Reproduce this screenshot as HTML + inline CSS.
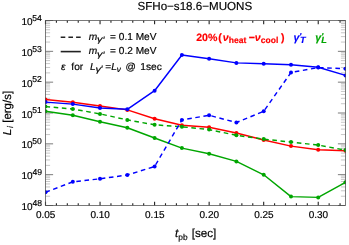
<!DOCTYPE html>
<html><head><meta charset="utf-8"><title>plot</title>
<style>html,body{margin:0;padding:0;background:#fff;overflow:hidden}body{width:349px;height:245px;position:relative;font-family:"Liberation Sans",sans-serif}</style>
</head><body>
<svg width="349" height="245" viewBox="0 0 349 245" style="position:absolute;left:0;top:0">
<defs><clipPath id="c"><rect x="45.0" y="20.0" width="301.0" height="186.0"/></clipPath></defs>
<rect width="349" height="245" fill="#fff"/>
<path d="M45.5 196.22h4.6M345.5 196.22h-4.6" stroke="#999" stroke-width="0.55"/>
<path d="M45.5 190.79h4.6M345.5 190.79h-4.6" stroke="#999" stroke-width="0.55"/>
<path d="M45.5 186.94h4.6M345.5 186.94h-4.6" stroke="#999" stroke-width="0.55"/>
<path d="M45.5 183.95h4.6M345.5 183.95h-4.6" stroke="#999" stroke-width="0.55"/>
<path d="M45.5 181.51h4.6M345.5 181.51h-4.6" stroke="#999" stroke-width="0.55"/>
<path d="M45.5 179.44h4.6M345.5 179.44h-4.6" stroke="#999" stroke-width="0.55"/>
<path d="M45.5 177.65h4.6M345.5 177.65h-4.6" stroke="#999" stroke-width="0.55"/>
<path d="M45.5 176.08h4.6M345.5 176.08h-4.6" stroke="#999" stroke-width="0.55"/>
<path d="M45.5 165.38h4.6M345.5 165.38h-4.6" stroke="#999" stroke-width="0.55"/>
<path d="M45.5 159.96h4.6M345.5 159.96h-4.6" stroke="#999" stroke-width="0.55"/>
<path d="M45.5 156.10h4.6M345.5 156.10h-4.6" stroke="#999" stroke-width="0.55"/>
<path d="M45.5 153.12h4.6M345.5 153.12h-4.6" stroke="#999" stroke-width="0.55"/>
<path d="M45.5 150.67h4.6M345.5 150.67h-4.6" stroke="#999" stroke-width="0.55"/>
<path d="M45.5 148.61h4.6M345.5 148.61h-4.6" stroke="#999" stroke-width="0.55"/>
<path d="M45.5 146.82h4.6M345.5 146.82h-4.6" stroke="#999" stroke-width="0.55"/>
<path d="M45.5 145.24h4.6M345.5 145.24h-4.6" stroke="#999" stroke-width="0.55"/>
<path d="M45.5 134.55h4.6M345.5 134.55h-4.6" stroke="#999" stroke-width="0.55"/>
<path d="M45.5 129.12h4.6M345.5 129.12h-4.6" stroke="#999" stroke-width="0.55"/>
<path d="M45.5 125.27h4.6M345.5 125.27h-4.6" stroke="#999" stroke-width="0.55"/>
<path d="M45.5 122.28h4.6M345.5 122.28h-4.6" stroke="#999" stroke-width="0.55"/>
<path d="M45.5 119.84h4.6M345.5 119.84h-4.6" stroke="#999" stroke-width="0.55"/>
<path d="M45.5 117.78h4.6M345.5 117.78h-4.6" stroke="#999" stroke-width="0.55"/>
<path d="M45.5 115.99h4.6M345.5 115.99h-4.6" stroke="#999" stroke-width="0.55"/>
<path d="M45.5 114.41h4.6M345.5 114.41h-4.6" stroke="#999" stroke-width="0.55"/>
<path d="M45.5 103.72h4.6M345.5 103.72h-4.6" stroke="#999" stroke-width="0.55"/>
<path d="M45.5 98.29h4.6M345.5 98.29h-4.6" stroke="#999" stroke-width="0.55"/>
<path d="M45.5 94.44h4.6M345.5 94.44h-4.6" stroke="#999" stroke-width="0.55"/>
<path d="M45.5 91.45h4.6M345.5 91.45h-4.6" stroke="#999" stroke-width="0.55"/>
<path d="M45.5 89.01h4.6M345.5 89.01h-4.6" stroke="#999" stroke-width="0.55"/>
<path d="M45.5 86.94h4.6M345.5 86.94h-4.6" stroke="#999" stroke-width="0.55"/>
<path d="M45.5 85.15h4.6M345.5 85.15h-4.6" stroke="#999" stroke-width="0.55"/>
<path d="M45.5 83.58h4.6M345.5 83.58h-4.6" stroke="#999" stroke-width="0.55"/>
<path d="M45.5 72.88h4.6M345.5 72.88h-4.6" stroke="#999" stroke-width="0.55"/>
<path d="M45.5 67.46h4.6M345.5 67.46h-4.6" stroke="#999" stroke-width="0.55"/>
<path d="M45.5 63.60h4.6M345.5 63.60h-4.6" stroke="#999" stroke-width="0.55"/>
<path d="M45.5 60.62h4.6M345.5 60.62h-4.6" stroke="#999" stroke-width="0.55"/>
<path d="M45.5 58.17h4.6M345.5 58.17h-4.6" stroke="#999" stroke-width="0.55"/>
<path d="M45.5 56.11h4.6M345.5 56.11h-4.6" stroke="#999" stroke-width="0.55"/>
<path d="M45.5 54.32h4.6M345.5 54.32h-4.6" stroke="#999" stroke-width="0.55"/>
<path d="M45.5 52.74h4.6M345.5 52.74h-4.6" stroke="#999" stroke-width="0.55"/>
<path d="M45.5 42.05h4.6M345.5 42.05h-4.6" stroke="#999" stroke-width="0.55"/>
<path d="M45.5 36.62h4.6M345.5 36.62h-4.6" stroke="#999" stroke-width="0.55"/>
<path d="M45.5 32.77h4.6M345.5 32.77h-4.6" stroke="#999" stroke-width="0.55"/>
<path d="M45.5 29.78h4.6M345.5 29.78h-4.6" stroke="#999" stroke-width="0.55"/>
<path d="M45.5 27.34h4.6M345.5 27.34h-4.6" stroke="#999" stroke-width="0.55"/>
<path d="M45.5 25.28h4.6M345.5 25.28h-4.6" stroke="#999" stroke-width="0.55"/>
<path d="M45.5 23.49h4.6M345.5 23.49h-4.6" stroke="#999" stroke-width="0.55"/>
<path d="M45.5 21.91h4.6M345.5 21.91h-4.6" stroke="#999" stroke-width="0.55"/>
<path d="M45.5 205.50h7.6M345.5 205.50h-7.6" stroke="#444" stroke-width="0.7"/>
<path d="M45.5 174.67h7.6M345.5 174.67h-7.6" stroke="#444" stroke-width="0.7"/>
<path d="M45.5 143.83h7.6M345.5 143.83h-7.6" stroke="#444" stroke-width="0.7"/>
<path d="M45.5 113.00h7.6M345.5 113.00h-7.6" stroke="#444" stroke-width="0.7"/>
<path d="M45.5 82.17h7.6M345.5 82.17h-7.6" stroke="#444" stroke-width="0.7"/>
<path d="M45.5 51.33h7.6M345.5 51.33h-7.6" stroke="#444" stroke-width="0.7"/>
<path d="M45.5 20.50h7.6M345.5 20.50h-7.6" stroke="#444" stroke-width="0.7"/>
<path d="M45.50 205.5v-3.8M45.50 20.5v3.8" stroke="#222" stroke-width="1.1"/>
<path d="M56.41 205.5v-2.3M56.41 20.5v2.3" stroke="#222" stroke-width="1.1"/>
<path d="M67.32 205.5v-2.3M67.32 20.5v2.3" stroke="#222" stroke-width="1.1"/>
<path d="M78.23 205.5v-2.3M78.23 20.5v2.3" stroke="#222" stroke-width="1.1"/>
<path d="M89.14 205.5v-2.3M89.14 20.5v2.3" stroke="#222" stroke-width="1.1"/>
<path d="M100.05 205.5v-3.8M100.05 20.5v3.8" stroke="#222" stroke-width="1.1"/>
<path d="M110.95 205.5v-2.3M110.95 20.5v2.3" stroke="#222" stroke-width="1.1"/>
<path d="M121.86 205.5v-2.3M121.86 20.5v2.3" stroke="#222" stroke-width="1.1"/>
<path d="M132.77 205.5v-2.3M132.77 20.5v2.3" stroke="#222" stroke-width="1.1"/>
<path d="M143.68 205.5v-2.3M143.68 20.5v2.3" stroke="#222" stroke-width="1.1"/>
<path d="M154.59 205.5v-3.8M154.59 20.5v3.8" stroke="#222" stroke-width="1.1"/>
<path d="M165.50 205.5v-2.3M165.50 20.5v2.3" stroke="#222" stroke-width="1.1"/>
<path d="M176.41 205.5v-2.3M176.41 20.5v2.3" stroke="#222" stroke-width="1.1"/>
<path d="M187.32 205.5v-2.3M187.32 20.5v2.3" stroke="#222" stroke-width="1.1"/>
<path d="M198.23 205.5v-2.3M198.23 20.5v2.3" stroke="#222" stroke-width="1.1"/>
<path d="M209.14 205.5v-3.8M209.14 20.5v3.8" stroke="#222" stroke-width="1.1"/>
<path d="M220.05 205.5v-2.3M220.05 20.5v2.3" stroke="#222" stroke-width="1.1"/>
<path d="M230.95 205.5v-2.3M230.95 20.5v2.3" stroke="#222" stroke-width="1.1"/>
<path d="M241.86 205.5v-2.3M241.86 20.5v2.3" stroke="#222" stroke-width="1.1"/>
<path d="M252.77 205.5v-2.3M252.77 20.5v2.3" stroke="#222" stroke-width="1.1"/>
<path d="M263.68 205.5v-3.8M263.68 20.5v3.8" stroke="#222" stroke-width="1.1"/>
<path d="M274.59 205.5v-2.3M274.59 20.5v2.3" stroke="#222" stroke-width="1.1"/>
<path d="M285.50 205.5v-2.3M285.50 20.5v2.3" stroke="#222" stroke-width="1.1"/>
<path d="M296.41 205.5v-2.3M296.41 20.5v2.3" stroke="#222" stroke-width="1.1"/>
<path d="M307.32 205.5v-2.3M307.32 20.5v2.3" stroke="#222" stroke-width="1.1"/>
<path d="M318.23 205.5v-3.8M318.23 20.5v3.8" stroke="#222" stroke-width="1.1"/>
<path d="M329.14 205.5v-2.3M329.14 20.5v2.3" stroke="#222" stroke-width="1.1"/>
<path d="M340.05 205.5v-2.3M340.05 20.5v2.3" stroke="#222" stroke-width="1.1"/>
<g clip-path="url(#c)">
<polyline points="45.5,99.5 72.8,102.2 100.0,106.0 127.3,109.9 154.6,118.7 181.9,125.3 209.1,127.3 236.4,133.0 263.7,140.0 291.0,146.1 318.2,149.8 345.5,150.8" fill="none" stroke="#ff0000" stroke-width="1.45" stroke-linejoin="round"/>
<circle cx="45.5" cy="99.5" r="2" fill="#ff0000"/>
<circle cx="72.8" cy="102.2" r="2" fill="#ff0000"/>
<circle cx="100.0" cy="106.0" r="2" fill="#ff0000"/>
<circle cx="127.3" cy="109.9" r="2" fill="#ff0000"/>
<circle cx="154.6" cy="118.7" r="2" fill="#ff0000"/>
<circle cx="181.9" cy="125.3" r="2" fill="#ff0000"/>
<circle cx="209.1" cy="127.3" r="2" fill="#ff0000"/>
<circle cx="236.4" cy="133.0" r="2" fill="#ff0000"/>
<circle cx="263.7" cy="140.0" r="2" fill="#ff0000"/>
<circle cx="291.0" cy="146.1" r="2" fill="#ff0000"/>
<circle cx="318.2" cy="149.8" r="2" fill="#ff0000"/>
<circle cx="345.5" cy="150.8" r="2" fill="#ff0000"/>
<polyline points="45.5,102.1 72.8,104.1 100.0,108.0 127.3,109.3 154.6,90.7 181.9,55.0 209.1,58.8 236.4,62.9 263.7,63.7 291.0,64.7 318.2,67.2 345.5,75.4" fill="none" stroke="#0000ff" stroke-width="1.45" stroke-linejoin="round"/>
<circle cx="45.5" cy="102.1" r="2" fill="#0000ff"/>
<circle cx="72.8" cy="104.1" r="2" fill="#0000ff"/>
<circle cx="100.0" cy="108.0" r="2" fill="#0000ff"/>
<circle cx="127.3" cy="109.3" r="2" fill="#0000ff"/>
<circle cx="154.6" cy="90.7" r="2" fill="#0000ff"/>
<circle cx="181.9" cy="55.0" r="2" fill="#0000ff"/>
<circle cx="209.1" cy="58.8" r="2" fill="#0000ff"/>
<circle cx="236.4" cy="62.9" r="2" fill="#0000ff"/>
<circle cx="263.7" cy="63.7" r="2" fill="#0000ff"/>
<circle cx="291.0" cy="64.7" r="2" fill="#0000ff"/>
<circle cx="318.2" cy="67.2" r="2" fill="#0000ff"/>
<circle cx="345.5" cy="75.4" r="2" fill="#0000ff"/>
<polyline points="45.5,106.6 72.8,109.0 100.0,113.9 127.3,119.9 154.6,124.8 181.9,126.8 209.1,129.6 236.4,135.3 263.7,139.1 291.0,142.1 318.2,145.1 345.5,150.1" fill="none" stroke="#00a600" stroke-width="1.45" stroke-linejoin="round" stroke-dasharray="4.6 3.6"/>
<circle cx="45.5" cy="106.6" r="2" fill="#00a600"/>
<circle cx="72.8" cy="109.0" r="2" fill="#00a600"/>
<circle cx="100.0" cy="113.9" r="2" fill="#00a600"/>
<circle cx="127.3" cy="119.9" r="2" fill="#00a600"/>
<circle cx="154.6" cy="124.8" r="2" fill="#00a600"/>
<circle cx="181.9" cy="126.8" r="2" fill="#00a600"/>
<circle cx="209.1" cy="129.6" r="2" fill="#00a600"/>
<circle cx="236.4" cy="135.3" r="2" fill="#00a600"/>
<circle cx="263.7" cy="139.1" r="2" fill="#00a600"/>
<circle cx="291.0" cy="142.1" r="2" fill="#00a600"/>
<circle cx="318.2" cy="145.1" r="2" fill="#00a600"/>
<circle cx="345.5" cy="150.1" r="2" fill="#00a600"/>
<polyline points="45.5,111.2 72.8,115.2 100.0,121.8 127.3,127.7 154.6,138.0 181.9,148.1 209.1,153.7 236.4,161.4 263.7,174.8 291.0,196.6 318.2,197.4 345.5,182.3" fill="none" stroke="#00a600" stroke-width="1.45" stroke-linejoin="round"/>
<circle cx="45.5" cy="111.2" r="2" fill="#00a600"/>
<circle cx="72.8" cy="115.2" r="2" fill="#00a600"/>
<circle cx="100.0" cy="121.8" r="2" fill="#00a600"/>
<circle cx="127.3" cy="127.7" r="2" fill="#00a600"/>
<circle cx="154.6" cy="138.0" r="2" fill="#00a600"/>
<circle cx="181.9" cy="148.1" r="2" fill="#00a600"/>
<circle cx="209.1" cy="153.7" r="2" fill="#00a600"/>
<circle cx="236.4" cy="161.4" r="2" fill="#00a600"/>
<circle cx="263.7" cy="174.8" r="2" fill="#00a600"/>
<circle cx="291.0" cy="196.6" r="2" fill="#00a600"/>
<circle cx="318.2" cy="197.4" r="2" fill="#00a600"/>
<circle cx="345.5" cy="182.3" r="2" fill="#00a600"/>
<polyline points="45.5,192.3 72.8,181.8 100.0,178.8 127.3,175.0 154.6,166.5 181.9,119.9 209.1,115.3 236.4,122.5 263.7,111.3 291.0,72.5 318.2,67.6 345.5,68.7" fill="none" stroke="#0000ff" stroke-width="1.45" stroke-linejoin="round" stroke-dasharray="4.6 3.6"/>
<circle cx="45.5" cy="192.3" r="2" fill="#0000ff"/>
<circle cx="72.8" cy="181.8" r="2" fill="#0000ff"/>
<circle cx="100.0" cy="178.8" r="2" fill="#0000ff"/>
<circle cx="127.3" cy="175.0" r="2" fill="#0000ff"/>
<circle cx="154.6" cy="166.5" r="2" fill="#0000ff"/>
<circle cx="181.9" cy="119.9" r="2" fill="#0000ff"/>
<circle cx="209.1" cy="115.3" r="2" fill="#0000ff"/>
<circle cx="236.4" cy="122.5" r="2" fill="#0000ff"/>
<circle cx="263.7" cy="111.3" r="2" fill="#0000ff"/>
<circle cx="291.0" cy="72.5" r="2" fill="#0000ff"/>
<circle cx="318.2" cy="67.6" r="2" fill="#0000ff"/>
<circle cx="345.5" cy="68.7" r="2" fill="#0000ff"/>
</g>
<rect x="45.5" y="20.5" width="300.0" height="185.0" fill="none" stroke="#4d4d4d" stroke-width="0.75"/>
<path d="M60.7 37.2H80.8" stroke="#222" stroke-width="1.6" stroke-dasharray="4.6 3.1"/>
<path d="M60.7 51.6H80.8" stroke="#222" stroke-width="1.6"/>
<g font-family="Liberation Sans, sans-serif" fill="#000000" font-size="10" text-rendering="geometricPrecision" style="filter:blur(0.25px)" stroke="#000" stroke-width="0.18">
<text x="137.47" y="10.40" font-size="11.60">SFHo−s18.6−MUONS</text>
<text x="21.54" y="210.10" font-size="10.00">10</text>
<text x="32.40" y="205.80" font-size="8.60">48</text>
<text x="21.54" y="179.27" font-size="10.00">10</text>
<text x="32.40" y="174.97" font-size="8.60">49</text>
<text x="21.54" y="148.43" font-size="10.00">10</text>
<text x="32.26" y="144.13" font-size="8.60">50</text>
<text x="21.54" y="117.60" font-size="10.00">10</text>
<text x="32.26" y="113.30" font-size="8.60">51</text>
<text x="21.54" y="86.77" font-size="10.00">10</text>
<text x="32.26" y="82.47" font-size="8.60">52</text>
<text x="21.54" y="55.93" font-size="10.00">10</text>
<text x="32.26" y="51.63" font-size="8.60">53</text>
<text x="21.54" y="25.10" font-size="10.00">10</text>
<text x="32.26" y="20.80" font-size="8.60">54</text>
<text x="45.7" y="218" text-anchor="middle" font-size="10">0.05</text>
<text x="100.2" y="218" text-anchor="middle" font-size="10">0.10</text>
<text x="154.8" y="218" text-anchor="middle" font-size="10">0.15</text>
<text x="209.3" y="218" text-anchor="middle" font-size="10">0.20</text>
<text x="263.9" y="218" text-anchor="middle" font-size="10">0.25</text>
<text x="318.4" y="218" text-anchor="middle" font-size="10">0.30</text>
<text x="175.07" y="237.30" font-size="11.70" font-style="italic">t</text>
<text x="178.36" y="239.90" font-size="8.40">pb</text>
<text x="191.67" y="237.30" font-size="11.70">[sec]</text>
<text transform="translate(10.50,135.35) rotate(-90)" font-size="11.50" font-style="italic">L</text>
<text transform="translate(13.00,128.03) rotate(-90)" font-size="8.30" font-style="italic">i</text>
<text transform="translate(10.50,122.82) rotate(-90)" font-size="11.50">[erg/s]</text>
<text x="88.63" y="40.00" font-size="10.20" font-style="italic">m</text>
<text transform="translate(97.11,42.40) scale(1.300,1)" font-size="8.40" font-style="italic">γ</text>
<text x="102.86" y="43.40" font-size="9.50" font-style="italic">′</text>
<text x="110.11" y="40.00" font-size="10.10">= 0.1 MeV</text>
<text x="88.63" y="54.40" font-size="10.20" font-style="italic">m</text>
<text transform="translate(97.11,56.80) scale(1.300,1)" font-size="8.40" font-style="italic">γ</text>
<text x="102.86" y="57.80" font-size="9.50" font-style="italic">′</text>
<text x="110.11" y="54.40" font-size="10.10">= 0.2 MeV</text>
<text x="61.03" y="69.70" font-size="10.20" font-style="italic">ε</text>
<text x="71.36" y="69.70" font-size="10.20">for</text>
<text x="89.99" y="69.70" font-size="10.20" font-style="italic">L</text>
<text transform="translate(95.61,71.70) scale(1.300,1)" font-size="8.40" font-style="italic">γ</text>
<text x="100.86" y="71.70" font-size="9.50" font-style="italic">′</text>
<text x="105.30" y="69.70" font-size="10.20">=</text>
<text x="111.19" y="69.70" font-size="10.20" font-style="italic">L</text>
<text x="116.80" y="71.60" font-size="8.20" font-style="italic">ν</text>
<text x="125.60" y="69.70" font-size="10.20">@</text>
<text x="140.32" y="69.70" font-size="10.20">1sec</text>
<text x="196.23" y="40.60" font-size="10.60" font-weight="bold" fill="#ff0000" stroke="#ff0000">20%</text>
<text x="218.37" y="40.60" font-size="10.60" font-weight="bold" fill="#ff0000" stroke="#ff0000">(</text>
<text x="222.86" y="40.60" font-size="10.60" font-weight="bold" font-style="italic" fill="#ff0000" stroke="#ff0000">ν</text>
<text x="228.81" y="43.10" font-size="8.50" font-weight="bold" fill="#ff0000" stroke="#ff0000">heat</text>
<text x="248.76" y="40.60" font-size="10.60" font-weight="bold" fill="#ff0000" stroke="#ff0000">−</text>
<text x="254.66" y="40.60" font-size="10.60" font-weight="bold" font-style="italic" fill="#ff0000" stroke="#ff0000">ν</text>
<text x="260.77" y="43.10" font-size="8.50" font-weight="bold" fill="#ff0000" stroke="#ff0000">cool</text>
<text x="280.89" y="40.60" font-size="10.60" font-weight="bold" fill="#ff0000" stroke="#ff0000">)</text>
<text x="293.44" y="40.60" font-size="10.60" font-weight="bold" font-style="italic" fill="#0000ff" stroke="#0000ff">γ</text>
<text x="299.29" y="39.30" font-size="8.50" font-weight="bold" font-style="italic" fill="#0000ff" stroke="#0000ff">′</text>
<text x="300.06" y="43.40" font-size="9.10" font-weight="bold" font-style="italic" fill="#0000ff" stroke="#0000ff">T</text>
<text x="315.24" y="40.60" font-size="10.60" font-weight="bold" font-style="italic" fill="#00a600" stroke="#00a600">γ</text>
<text x="321.29" y="39.30" font-size="8.50" font-weight="bold" font-style="italic" fill="#00a600" stroke="#00a600">′</text>
<text x="321.14" y="43.40" font-size="9.10" font-weight="bold" font-style="italic" fill="#00a600" stroke="#00a600">L</text>
</g>
</svg>
</body></html>
